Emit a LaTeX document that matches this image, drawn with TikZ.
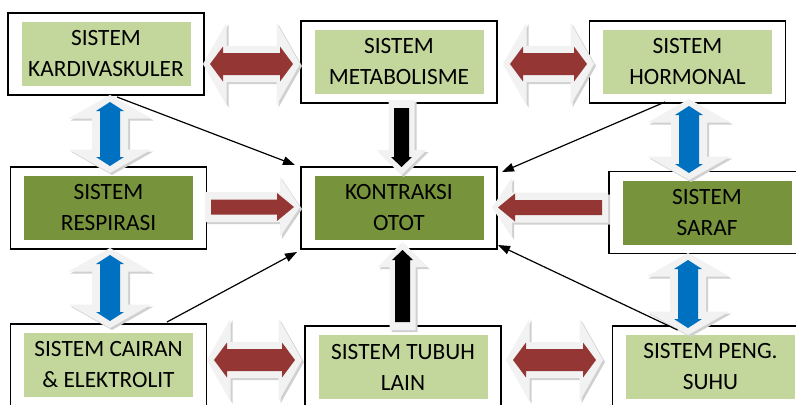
\documentclass[tikz,border=0pt]{standalone}
\usepackage{fontspec}
\setmainfont{Carlito}
\usetikzlibrary{arrows.meta,calc}

\definecolor{lightgreen}{HTML}{C3D69B}
\definecolor{darkgreen}{HTML}{77933C}
\definecolor{arrowred}{HTML}{943634}
\definecolor{arrowblue}{HTML}{0070C0}
\definecolor{arrowgrey}{HTML}{F2F2F2}
\definecolor{arrowshade}{HTML}{D0D0D0}

% outlines of the block arrows, centred at the origin, pointing right
\newcommand{\dblpath}[4]{({-(#1)/2},0) -- ({-(#1)/2+#4},#2) -- ({-(#1)/2+#4},#3) -- ({(#1)/2-#4},#3) -- ({(#1)/2-#4},#2) -- ({(#1)/2},0) -- ({(#1)/2-#4},{-(#2)}) -- ({(#1)/2-#4},{-(#3)}) -- ({-(#1)/2+#4},{-(#3)}) -- ({-(#1)/2+#4},{-(#2)}) -- cycle}
\newcommand{\onepath}[4]{({-(#1)/2},#3) -- ({(#1)/2-#4},#3) -- ({(#1)/2-#4},#2) -- ({(#1)/2},0) -- ({(#1)/2-#4},{-(#2)}) -- ({(#1)/2-#4},{-(#3)}) -- ({-(#1)/2},{-(#3)}) -- cycle}

% #1 centre, #2 angle, #3 length, #4 colour, #5-#7 inner head/shaft/head length
\newcommand{\dblarrow}[7]{%
  \begin{scope}[shift={#1},shift={(2,2)},rotate=#2]
    \fill[arrowshade] \dblpath{#3}{41.5}{18}{23.5};
  \end{scope}
  \begin{scope}[shift={#1},rotate=#2]
    \fill[arrowgrey] \dblpath{#3}{41.5}{18}{23.5};
    \fill[#4] \dblpath{#3-14}{#5}{#6}{#7};
  \end{scope}}
\newcommand{\redarrow}[3]{%
  \begin{scope}[shift={#1},shift={(2,2)},rotate=#2]
    \fill[arrowshade] \onepath{#3}{30}{15}{20};
  \end{scope}
  \begin{scope}[shift={#1},rotate=#2]
    \fill[arrowgrey] \onepath{#3}{30}{15}{20};
    \fill[arrowred] \onepath{#3-12}{14}{7.5}{17};
  \end{scope}}
\newcommand{\blackarrow}[3]{%
  \begin{scope}[shift={#1},shift={(2,2)},rotate=#2]
    \fill[arrowshade] \onepath{#3}{25}{13}{25};
  \end{scope}
  \begin{scope}[shift={#1},rotate=#2]
    \fill[arrowgrey] \onepath{#3}{25}{13}{25};
    \fill[black] \onepath{#3-16}{10.5}{7.5}{10};
  \end{scope}}

\tikzset{
  frame/.style={draw, line width=1pt, fill=white, inner sep=0pt, outer sep=0pt,
    minimum width=147pt, minimum height=61.5pt},
  inbox/.style={inner sep=0pt, outer sep=0pt, align=center,
    minimum width=126.75pt, minimum height=48pt,
    font=\fontsize{17.5pt}{23.25pt}\selectfont},
  pointer/.style={line width=0.9pt, -{Triangle[length=9pt,width=6.5pt]}}
}

\begin{document}
\begin{tikzpicture}[x=0.75pt,y=-0.75pt]
  \useasboundingbox (0,0) rectangle (796,404);
  \foreach \name/\x/\y/\col/\txt in {
      kardio/106/54/lightgreen/{SISTEM\\KARDIVASKULER},
      metab/399/62/lightgreen/{SISTEM\\METABOLISME},
      hormon/687.5/62/lightgreen/{SISTEM\\HORMONAL},
      respir/108.5/208/darkgreen/{SISTEM\\RESPIRASI},
      kontraksi/399/208/darkgreen/{KONTRAKSI\\OTOT},
      saraf/707/212.5/darkgreen/{SISTEM\\SARAF},
      cairan/108.5/365/lightgreen/{SISTEM CAIRAN\\\& ELEKTROLIT},
      tubuh/403/367/lightgreen/{SISTEM TUBUH\\LAIN},
      suhu/710.5/367/lightgreen/{SISTEM PENG.\\SUHU}} {
    \node[frame] (\name) at (\x,\y) {};
    \node[inbox,fill=\col] (\name-in) at (\name) {\txt};
  }
  % two-way arrows between neighbours
  \dblarrow{(251.5,64)}{0}{97}{arrowred}{17.5}{11}{13}
  \dblarrow{(548.5,64)}{0}{91}{arrowred}{17.5}{11}{13}
  \dblarrow{(254.5,360)}{0}{95}{arrowred}{17.5}{11}{13}
  \dblarrow{(554.5,360)}{0}{97}{arrowred}{17.5}{11}{13}
  \dblarrow{(110,134)}{90}{78}{arrowblue}{14}{10}{9}
  \dblarrow{(110,288)}{90}{80}{arrowblue}{14}{10}{9}
  \dblarrow{(689,139.5)}{90}{81}{arrowblue}{14}{10}{9}
  \dblarrow{(688,294)}{90}{82}{arrowblue}{14}{10}{9}
  % arrows into the centre
  \redarrow{(252.5,207)}{0}{95}
  \redarrow{(550,207.5)}{180}{116}
  \blackarrow{(401.5,137.5)}{-90}{75}
  \blackarrow{(402.5,286)}{90}{88}
  \draw[pointer] ($(kardio.south)+(11,2)$) -- ($(kontraksi.north west)+(-6,-2)$);
  \draw[pointer] ($(hormon.south)+(-22.5,-1)$) -- ($(kontraksi.north east)+(5,5)$);
  \draw[pointer] ($(cairan.north)+(58.5,-2)$) -- ($(kontraksi.south west)+(-4,3)$);
  \draw[pointer] ($(suhu.north)+(-33,4)$) -- ($(kontraksi.south east)+(1,-4)$);
\end{tikzpicture}
\end{document}
